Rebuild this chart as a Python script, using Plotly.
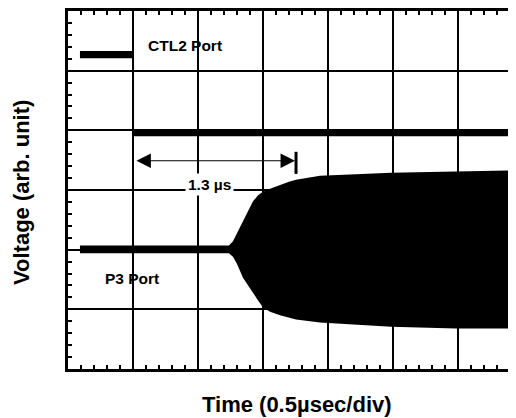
import plotly.graph_objects as go

# ---- data (time in µs, voltage in grid divisions) ----
ctl2_upper_t = [0.092, 0.497, 0.497, 3.45]
ctl2_upper_v = [5.33, 5.33, 4.02, 4.02]
ctl2_lower_t = [0.092, 0.508, 0.508, 3.45]
ctl2_lower_v = [5.21, 5.21, 3.90, 3.90]

p3_t = [0.092, 1.238, 1.269, 1.300, 1.346, 1.385, 1.423, 1.462, 1.500,
        1.554, 1.631, 1.700, 1.754, 1.938, 2.169, 2.485, 2.985, 3.45]
p3_upper = [2.07, 2.07, 2.14, 2.28, 2.48, 2.64, 2.81, 2.91, 2.97,
            3.02, 3.09, 3.14, 3.17, 3.24, 3.26, 3.29, 3.31, 3.33]
p3_lower = [1.94, 1.94, 1.88, 1.76, 1.53, 1.40, 1.28, 1.15, 1.03,
            0.96, 0.90, 0.86, 0.83, 0.78, 0.75, 0.71, 0.68, 0.68]

x_range = [0, 3.446]
y_range = [0, 6]

# annotation positions
arrow_start, arrow_end, arrow_y = 0.515, 1.746, 3.49
bar_x, bar_y0, bar_y1 = 1.754, 3.27, 3.64

FONT = "Liberation Sans, Arial, Helvetica, sans-serif"

fig = go.Figure()

fig.add_trace(go.Scatter(
    x=ctl2_upper_t + ctl2_lower_t[::-1],
    y=ctl2_upper_v + ctl2_lower_v[::-1],
    fill="toself", fillcolor="black", mode="lines",
    line=dict(width=0, color="black"), hoverinfo="skip", showlegend=False))

fig.add_trace(go.Scatter(
    x=p3_t + p3_t[::-1],
    y=p3_upper + p3_lower[::-1],
    fill="toself", fillcolor="black", mode="lines",
    line=dict(width=0, color="black"), hoverinfo="skip", showlegend=False))

axis_common = dict(
    showline=True, linewidth=3, linecolor="black",
    showgrid=True, gridcolor="black", gridwidth=2,
    zeroline=False, showticklabels=False,
    ticks="inside", ticklen=4, tickwidth=2, tickcolor="black",
)

fig.update_xaxes(range=x_range, dtick=0.5, tick0=0, mirror="allticks",
                 minor=dict(dtick=0.1, ticks="inside", ticklen=4, tickwidth=1.5,
                            tickcolor="black", showgrid=False),
                 **axis_common)
fig.update_yaxes(range=y_range, dtick=1, tick0=0, mirror=False,
                 minor=dict(dtick=0.2, ticks="inside", ticklen=4, tickwidth=1.5,
                            tickcolor="black", showgrid=False),
                 **axis_common)

lab_font = dict(family=FONT, size=15.5, color="black", weight="bold")
fig.add_annotation(x=0.9, y=5.43, text="CTL2 Port", showarrow=False, font=lab_font)
fig.add_annotation(x=0.492, y=1.52, text="P3 Port", showarrow=False, font=lab_font)
fig.add_annotation(x=1.092, y=3.09, text="1.3 µs", showarrow=False, font=lab_font,
                   bgcolor="white", borderpad=2)

fig.add_annotation(x=arrow_end, y=arrow_y, ax=arrow_start, ay=arrow_y,
                   axref="x", ayref="y", xref="x", yref="y", text="",
                   showarrow=True, arrowside="end+start",
                   arrowhead=2, startarrowhead=2, arrowwidth=1.2,
                   arrowsize=2.4, startarrowsize=2.4, arrowcolor="black",
                   standoff=0, startstandoff=0)
fig.add_shape(type="line", x0=bar_x, x1=bar_x, y0=bar_y0, y1=bar_y1,
              xref="x", yref="y", line=dict(color="black", width=3))

title_font = dict(family=FONT, size=22, color="black", weight="bold")
fig.add_annotation(xref="paper", yref="paper", x=0.511, y=-0.0997,
                   text="Time (0.5µsec/div)", showarrow=False, font=title_font,
                   xanchor="center", yanchor="middle")
fig.add_annotation(xref="paper", yref="paper", x=-0.1038, y=0.493,
                   text="Voltage (arb. unit)", showarrow=False, font=title_font,
                   textangle=-90, xanchor="center", yanchor="middle")

# page body has an 8px margin, so the figure is sized/offset to compensate
fig.update_layout(
    width=508, height=410,
    margin=dict(l=60, r=0, t=1, b=49),
    paper_bgcolor="white", plot_bgcolor="white",
    showlegend=False,
)

fig.write_html("out.html")
